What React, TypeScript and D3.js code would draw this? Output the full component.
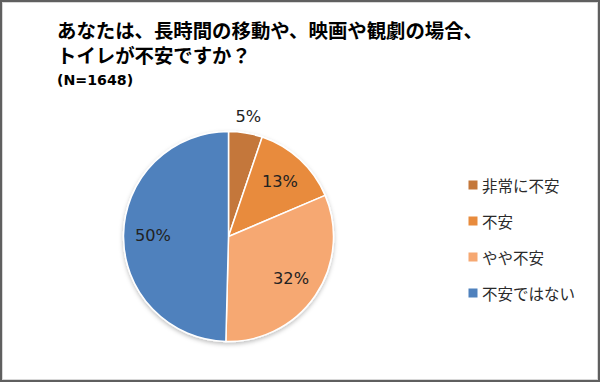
import React from "react";
import * as d3 from "d3";

const categories = ["非常に不安", "不安", "やや不安", "不安ではない"];
const values = [5.2, 13.4, 31.8, 49.6];
const colors = ["#C4773A", "#E88B3D", "#F6A872", "#4F81BD"];
const titleLines = ["あなたは、長時間の移動や、映画や観劇の場合、", "トイレが不安ですか？"];
const subtitle = "(N=1648)";

const W = 600;
const H = 382;

export default function App() {
  const cx = 228.5;
  const cy = 236.5;
  const R = 105;
  const pie = d3.pie<number>().sort(null).value((d) => d);
  const arcs = pie(values);
  const arc = d3.arc<d3.PieArcDatum<number>>().innerRadius(0).outerRadius(R);
  const inLabel = d3.arc<d3.PieArcDatum<number>>().innerRadius(R * 0.72).outerRadius(R * 0.72);
  const outLabel = d3.arc<d3.PieArcDatum<number>>().innerRadius(R + 17).outerRadius(R + 17);
  const total = d3.sum(values);
  const legendY = d3.scalePoint<string>().domain(categories).range([185, 293]);
  const labelFont = "'DejaVu Sans', Verdana, sans-serif";
  const jpFont = "'Noto Sans CJK JP', 'Noto Sans', sans-serif";

  return (
    <svg
      width={W}
      height={H}
      style={{ position: "absolute", left: 0, top: 0, background: "#fff" }}
    >
      <defs>
        <filter id="sh" x="-20%" y="-20%" width="140%" height="140%">
          <feDropShadow dx="0" dy="2" stdDeviation="2" floodColor="#000" floodOpacity="0.25" />
        </filter>
      </defs>
      <rect x={0} y={0} width={W} height={H} fill="#fff" />
      <rect x={1} y={1} width={W - 2} height={H - 2} fill="none" stroke="#5f5f5f" strokeWidth={2} />
      <rect x={2.5} y={2.5} width={W - 5} height={H - 5} fill="none" stroke="#d8d8d8" strokeWidth={1} />

      <text fontFamily={jpFont} fontWeight="bold" fill="#000" fontSize={19.4}>
        <tspan x={57} y={38}>{titleLines[0]}</tspan>
        <tspan x={57} y={63}>{titleLines[1]}</tspan>
      </text>
      <text x={57} y={85} fontSize={14.2} fontWeight="bold" fontFamily={labelFont} fill="#000">
        {subtitle}
      </text>

      <g transform={`translate(${cx},${cy})`}>
        <g filter="url(#sh)">
          {arcs.map((a, i) => (
            <path key={i} d={arc(a) || ""} fill={colors[i]} stroke="#fff" strokeWidth={1.5} />
          ))}
        </g>
        {arcs.map((a, i) => {
          const pct = (a.data / total) * 100;
          const [lx, ly] = pct < 8 ? outLabel.centroid(a) : inLabel.centroid(a);
          return (
            <text
              key={i}
              x={lx}
              y={ly}
              textAnchor="middle"
              dominantBaseline="central"
              fontSize={16.2}
              fontFamily={labelFont}
              fill="#222"
            >
              {`${Math.round(pct)}%`}
            </text>
          );
        })}
      </g>

      <g>
        {categories.map((c, i) => {
          const y = legendY(c) as number;
          return (
            <g key={c}>
              <rect x={468.5} y={y - 4.5} width={9} height={9} fill={colors[i]} />
              <text x={482} y={y} dominantBaseline="central" fontSize={15.5} fontFamily={jpFont} fill="#2a2a2a">
                {c}
              </text>
            </g>
          );
        })}
      </g>
    </svg>
  );
}
